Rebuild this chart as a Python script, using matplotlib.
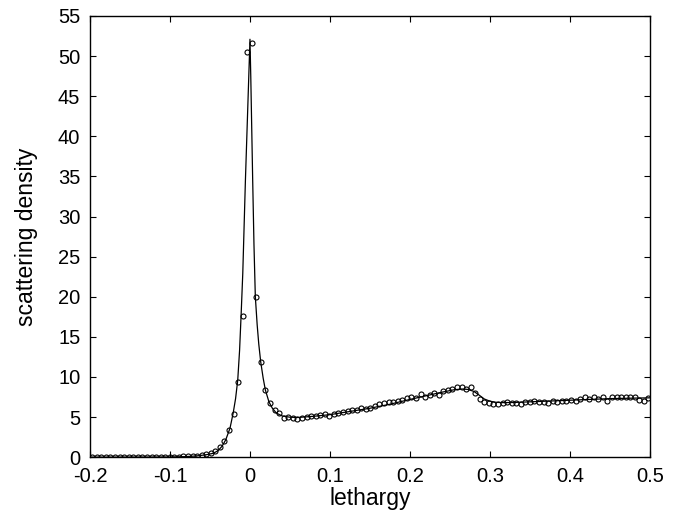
import matplotlib
matplotlib.use('Agg')
import matplotlib.pyplot as plt

# measured points (lethargy grid, step ~0.0057)
lethargy = [
    -0.1972, -0.1915, -0.1858, -0.1801, -0.1744, -0.1687, -0.1630, -0.1573, -0.1516, -0.1459,
    -0.1402, -0.1345, -0.1288, -0.1231, -0.1174, -0.1117, -0.1060, -0.1003, -0.0946, -0.0889,
    -0.0832, -0.0775, -0.0718, -0.0661, -0.0604, -0.0547, -0.0490, -0.0433, -0.0376, -0.0319,
    -0.0262, -0.0205, -0.0148, -0.0091, -0.0034, 0.0023, 0.0080, 0.0137, 0.0194, 0.0251,
    0.0308, 0.0365, 0.0422, 0.0479, 0.0536, 0.0593, 0.0650, 0.0707, 0.0764, 0.0821,
    0.0878, 0.0935, 0.0992, 0.1049, 0.1106, 0.1163, 0.1220, 0.1277, 0.1334, 0.1391,
    0.1448, 0.1505, 0.1562, 0.1619, 0.1676, 0.1733, 0.1790, 0.1847, 0.1904, 0.1961,
    0.2018, 0.2075, 0.2132, 0.2189, 0.2246, 0.2303, 0.2360, 0.2417, 0.2474, 0.2531,
    0.2588, 0.2645, 0.2702, 0.2759, 0.2816, 0.2873, 0.2930, 0.2987, 0.3044, 0.3101,
    0.3158, 0.3215, 0.3272, 0.3329, 0.3386, 0.3443, 0.3500, 0.3557, 0.3614, 0.3671,
    0.3728, 0.3785, 0.3842, 0.3899, 0.3956, 0.4013, 0.4070, 0.4127, 0.4184, 0.4241,
    0.4298, 0.4355, 0.4412, 0.4469, 0.4526, 0.4583, 0.4640, 0.4697, 0.4754, 0.4811,
    0.4868, 0.4925, 0.4982,
]
density = [
    0, 0, 0, 0, 0, 0, 0, 0, 0, 0,
    0, 0, 0, 0, 0.01, 0.02, 0.03, 0.04, 0.05, 0.07,
    0.09, 0.11, 0.13, 0.16, 0.25, 0.37, 0.57, 0.82, 1.25, 2.0,
    3.4, 5.4, 9.4, 17.6, 50.5, 51.6, 20.0, 11.9, 8.4, 6.7,
    5.9, 5.45, 4.85, 5.06, 4.83, 4.74, 4.88, 4.99, 5.1, 5.19,
    5.28, 5.37, 5.15, 5.42, 5.55, 5.6, 5.77, 5.85, 5.93, 6.1,
    6.0, 6.1, 6.37, 6.57, 6.81, 6.93, 6.85, 7.06, 7.14, 7.35,
    7.48, 7.35, 7.89, 7.56, 7.76, 7.97, 7.8, 8.26, 8.39, 8.51,
    8.72, 8.72, 8.51, 8.8, 7.97, 7.23, 6.85, 6.73, 6.64, 6.64,
    6.8, 6.85, 6.73, 6.81, 6.64, 6.85, 6.93, 6.98, 6.89, 6.93,
    6.81, 6.98, 6.93, 7.02, 7.06, 7.14, 7.06, 7.23, 7.56, 7.31,
    7.48, 7.23, 7.56, 7.06, 7.56, 7.48, 7.48, 7.48, 7.48, 7.56,
    7.14, 7.06, 7.35,
]

# fitted curve
fit_x = [-0.2, -0.1, -0.08, -0.067, -0.055, -0.046, -0.04, -0.035, -0.0303, -0.025,
         -0.021, -0.018, -0.0153, -0.013, -0.011, -0.009, -0.0057, -0.003, -0.001, 0.0,
         0.001, 0.0034, 0.005, 0.0067, 0.009, 0.011, 0.0134, 0.0165, 0.0192, 0.0237,
         0.028, 0.033, 0.04, 0.05, 0.06, 0.08, 0.1, 0.125, 0.15, 0.175,
         0.2, 0.22, 0.24, 0.255, 0.265, 0.272, 0.28, 0.287, 0.293, 0.3,
         0.307, 0.315, 0.33, 0.35, 0.4, 0.45, 0.5]
fit_y = [0.0, 0.02, 0.07, 0.15, 0.3, 0.48, 0.8, 1.35, 2.16, 3.6,
         5.5, 7.3, 9.6, 13.3, 17.9, 22.9, 34.5, 42.8, 49.0, 52.1,
         47.5, 34.5, 26.5, 20.0, 16.5, 14.1, 11.9, 9.85, 8.4, 6.9,
         6.1, 5.5, 5.15, 4.98, 4.95, 5.1, 5.3, 5.7, 6.1, 6.6,
         7.2, 7.65, 8.1, 8.4, 8.5, 8.45, 8.2, 7.7, 7.25, 6.98,
         6.85, 6.8, 6.82, 6.9, 7.1, 7.3, 7.4]

plt.rcParams['font.family'] = ['Liberation Sans', 'DejaVu Sans']
plt.rcParams['axes.unicode_minus'] = False

fig = plt.figure(figsize=(6.87, 5.16), dpi=100)
ax = fig.add_axes([0.131, 0.114, 0.815, 0.855])

ax.plot(fit_x, fit_y, color='black', lw=0.9)
ax.plot(lethargy, density, 'o', mfc='none', mec='black', ms=3.6, mew=0.8)

ax.set_xlim(-0.2, 0.5)
ax.set_ylim(0, 55)
ax.set_xticks([-0.2, -0.1, 0, 0.1, 0.2, 0.3, 0.4, 0.5])
ax.set_xticklabels(['-0.2', '-0.1', '0', '0.1', '0.2', '0.3', '0.4', '0.5'])
ax.set_yticks(range(0, 56, 5))
ax.tick_params(direction='in', top=True, right=True, length=4, width=0.8,
               labelsize=14.5)
ax.tick_params(axis='x', pad=7)
ax.tick_params(axis='y', pad=7)
for s in ax.spines.values():
    s.set_linewidth(1.0)

ax.set_xlabel('lethargy', fontsize=16.5, labelpad=1)
ax.set_ylabel('scattering density', fontsize=16.5, labelpad=14)

fig.savefig('out.png', dpi=100)
